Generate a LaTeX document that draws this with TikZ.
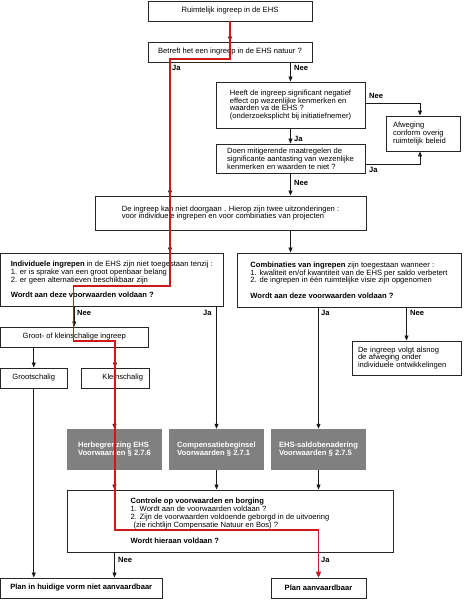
\documentclass[tikz,border=0pt]{standalone}
\usepackage{fontspec}
\setmainfont{Liberation Sans}
\usetikzlibrary{arrows.meta}
\definecolor{boxgray}{RGB}{128,128,128}
\definecolor{pathred}{RGB}{205,25,25}
\begin{document}
\begin{tikzpicture}[x=1pt,y=-1pt,
  box/.style={draw=black!85, line width=0.9pt, align=left, font=\fontsize{7.6}{7.8}\selectfont, inner sep=0pt},
  gbox/.style={fill=boxgray, align=left, font=\bfseries\fontsize{7.6}{7.8}\selectfont, text=white, inner sep=0pt},
  lbl/.style={font=\bfseries\fontsize{7.6}{8}\selectfont, inner sep=0pt, anchor=west},
  arr/.style={draw=black!90, line width=0.8pt, -{Triangle[length=5pt,width=4pt]}},
  redp/.style={draw=pathred, line width=1.6pt, line join=miter},
  redarr/.style={redp, -{Triangle[length=6pt,width=5pt]}}
]
\useasboundingbox (0,0) rectangle (464,600);

% boxes
\node[box, minimum width=164, minimum height=20, align=center] (b1) at (230,11) {Ruimtelijk ingreep in de EHS};
\node[box, minimum width=164, minimum height=20, align=center] (b2) at (230,52) {Betreft het een ingreep in de EHS natuur ?};
\node[box, minimum width=149, minimum height=46] (b3) at (290.5,105) {Heeft de ingreep significant negatief\\effect op wezenlijke kenmerken en\\waarden va de EHS ?\\(onderzoeksplicht bij initiatiefnemer)};
\node[box, minimum width=149, minimum height=29] (b4) at (290.5,158.5) {Doen mitigerende maatregelen de\\significante aantasting van wezenlijke\\kenmerken en waarden te niet ?};
\node[box, minimum width=74, minimum height=35, text width=60, inner xsep=7] (afw) at (423,133.5) {Afweging\\conform overig\\ruimtelijk beleid};
\node[box, minimum width=271, minimum height=34] (b5) at (230.5,213) {De ingreep kan niet doorgaan . Hierop zijn twee uitzonderingen :\\voor individuele ingrepen en voor combinaties van projecten};
\node[box, minimum width=222.5, minimum height=53] (b6) at (111.75,279.5) {\textbf{Individuele ingrepen} in de EHS zijn niet toegestaan tenzij :\\1. er is sprake van een groot openbaar belang\\2. er geen alternatieven beschikbaar zijn\\[7.4pt]\textbf{Wordt aan deze voorwaarden voldaan ?}};
\node[box, minimum width=224, minimum height=54] (b7) at (349,280) {\textbf{Combinaties van ingrepen} zijn toegestaan wanneer :\\1. kwaliteit en/of kwantiteit van de EHS per saldo verbetert\\2. de ingrepen in één ruimtelijke visie zijn opgenomen\\[7.4pt]\textbf{Wordt aan deze voorwaarden voldaan ?}};
\node[box, minimum width=147.5, minimum height=20, align=center] (b8) at (74.25,337) {Groot- of kleinschalige ingreep};
\node[box, minimum width=66.5, minimum height=20, align=center] (groot) at (33.75,378) {Grootschalig};
\node[box, minimum width=68, minimum height=20, text width=56, inner xsep=6, align=right] (klein) at (115,378) {Kleinschalig};
\node[box, minimum width=109, minimum height=34, text width=97, inner xsep=6] (b9) at (406.5,358) {De ingreep volgt alsnog\\de afweging onder\\individuele ontwikkelingen};
\node[gbox, minimum width=95, minimum height=41] (herb) at (114.5,449.5) {Herbegrenzing EHS\\Voorwaarden § 2.7.6};
\node[gbox, minimum width=95, minimum height=41] (comp) at (216.5,449.5) {Compensatiebeginsel\\Voorwaarden § 2.7.1};
\node[gbox, minimum width=95, minimum height=41] (ehs) at (318.5,449.5) {EHS-saldobenadering\\Voorwaarden § 2.7.5};
\node[box, minimum width=326, minimum height=62] (ctrl) at (230,521) {\textbf{Controle op voorwaarden en borging}\\1. Wordt aan de voorwaarden voldaan ?\\2. Zijn de voorwaarden voldoende geborgd in de uitvoering\\\hspace*{3pt}(zie richtlijn Compensatie Natuur en Bos) ?\\[9pt]\textbf{Wordt hieraan voldaan ?}};
\node[box, minimum width=161.5, minimum height=20, align=center, font=\bfseries\fontsize{7.6}{7.8}\selectfont] (plan1) at (81.25,588) {Plan in huidige vorm niet aanvaardbaar};
\node[box, minimum width=95, minimum height=20, align=center, font=\bfseries\fontsize{7.6}{7.8}\selectfont] (plan2) at (318.5,588) {Plan aanvaardbaar};

% connectors
\coordinate (xja) at (170,0);
\draw[arr] (b1.south) -- (b2.north);
\draw[arr] (xja |- b2.south) -- (xja |- b5.north);
\draw[arr] (b3.north |- b2.south) -- (b3.north);
\draw[arr] ([yshift=2pt]b3.east) -| ([xshift=-3pt]afw.north);
\draw[arr] (b3.south) -- (b4.north);
\draw[arr] ([yshift=-5.5pt]b4.east) -| ([xshift=-3pt]afw.south);
\draw[arr] (b4.south) -- (b4.south |- b5.north);
\draw[arr] (xja |- b5.south) -- (xja |- b6.north);
\draw[arr] (b4.south |- b5.south) -- (b4.south |- b7.north);
\draw[arr] (b8.north |- b6.south) -- (b8.north);
\draw[arr] (comp.north |- b6.south) -- (comp.north);
\draw[arr] (ehs.north |- b7.south) -- (ehs.north);
\draw[arr] (b9.north |- b7.south) -- (b9.north);
\draw[arr] (groot.north |- b8.south) -- (groot.north);
\draw[arr] (klein.north |- b8.south) -- (klein.north);
\draw[arr] (groot.south) -- (groot.south |- plan1.north);
\draw[arr] (klein.south) -- (herb.north);
\draw[arr] (herb.south) -- (herb.south |- ctrl.north);
\draw[arr] (comp.south) -- (comp.south |- ctrl.north);
\draw[arr] (ehs.south) -- (ehs.south |- ctrl.north);
\draw[arr] (herb.south |- ctrl.south) -- (herb.south |- plan1.north);
\draw[arr] (plan2.north |- ctrl.south) -- (plan2.north);

% labels
\node[lbl] (l1) at (172,68) {Ja};
\node[lbl] (l2) at (294,68) {Nee};
\node[lbl] (l3) at (369,96) {Nee};
\node[lbl] (l4) at (294,139) {Ja};
\node[lbl] (l5) at (369,170) {Ja};
\node[lbl] (l6) at (294,183) {Nee};
\node[lbl] (l7) at (77,313) {Nee};
\node[lbl] (l8) at (203,313) {Ja};
\node[lbl] (l9) at (321,313) {Ja};
\node[lbl] (l10) at (410,313) {Nee};
\node[lbl] (l11) at (118,560) {Nee};
\node[lbl] (l12) at (321,560) {Ja};

% red highlighted path
\coordinate (r1) at (230,59);
\coordinate (r2) at (170,59);
\coordinate (r3) at (170,286);
\coordinate (r4) at (73.5,286);
\coordinate (r5) at (73.5,341);
\coordinate (r6) at (115,341);
\coordinate (r7) at (115,530);
\coordinate (r8) at (318.5,530);
\draw[redarr] (b1.south) -- (r1) -- (r2) -- (r3) -- (r4) -- (r5) -- (r6) -- (r7) -- (r8) -- (plan2.north);
\end{tikzpicture}
\end{document}
